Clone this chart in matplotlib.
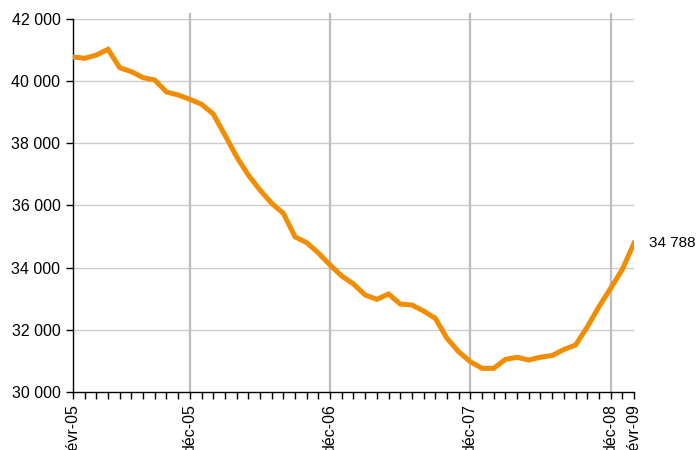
import matplotlib.pyplot as plt
from matplotlib.ticker import FuncFormatter

plt.rcParams['font.family'] = ['Liberation Sans', 'DejaVu Sans']

# monthly values, févr-05 .. févr-09
values = [40780, 40735, 40840, 41025, 40433, 40305, 40112, 40037, 39651, 39555,
          39416, 39256, 38943, 38268, 37570, 36980, 36498, 36070, 35748, 34990,
          34803, 34471, 34085, 33731, 33474, 33120, 32981, 33152, 32830, 32798,
          32605, 32370, 31727, 31295, 30974, 30761, 30761, 31050, 31115, 31030,
          31120, 31173, 31367, 31510, 32090, 32743, 33335, 33940, 34788]
tick_idx = [0, 10, 22, 34, 46, 48]
tick_labels = ['févr-05', 'déc-05', 'déc-06', 'déc-07', 'déc-08', 'févr-09']
grid_idx = [10, 22, 34, 46]
last_label = '34 788'

fig = plt.figure(figsize=(6.99, 4.5), dpi=100)
ax = fig.add_axes([0.1044, 0.1289, 0.8026, 0.8289])

x = list(range(len(values)))

for v in range(32000, 42001, 2000):
    ax.axhline(v, color='#cccccc', lw=1.0, zorder=1)
for g in grid_idx:
    ax.axvline(g, ymin=0, ymax=1.013, color='#bdbdbd', lw=1.6, zorder=1, clip_on=False)

ax.plot(x, values, color='#f28c00', lw=3.6, solid_joinstyle='miter', zorder=3)

ax.set_xlim(0, len(values) - 1)
ax.set_ylim(30000, 42000)
ax.set_yticks(range(30000, 42001, 2000))
ax.yaxis.set_major_formatter(FuncFormatter(lambda v, p: f'{int(v):,}'.replace(',', ' ')))

ax.set_xticks(tick_idx)
ax.set_xticklabels(tick_labels, rotation=90, va='top', ha='center')
ax.set_xticks(x, minor=True)

ax.tick_params(axis='y', direction='out', length=5, width=1, labelsize=11.5, pad=4)
ax.tick_params(axis='x', which='both', direction='out', length=5, width=1, labelsize=11.5, pad=4)

for s in ['top', 'right']:
    ax.spines[s].set_visible(False)
for s in ['left', 'bottom']:
    ax.spines[s].set_linewidth(1.0)
    ax.spines[s].set_color('black')

ax.annotate(last_label, xy=(x[-1], values[-1]), xytext=(11, 0), textcoords='offset points',
            va='center', ha='left', fontsize=11, annotation_clip=False)

fig.savefig('out.png', dpi=100)
